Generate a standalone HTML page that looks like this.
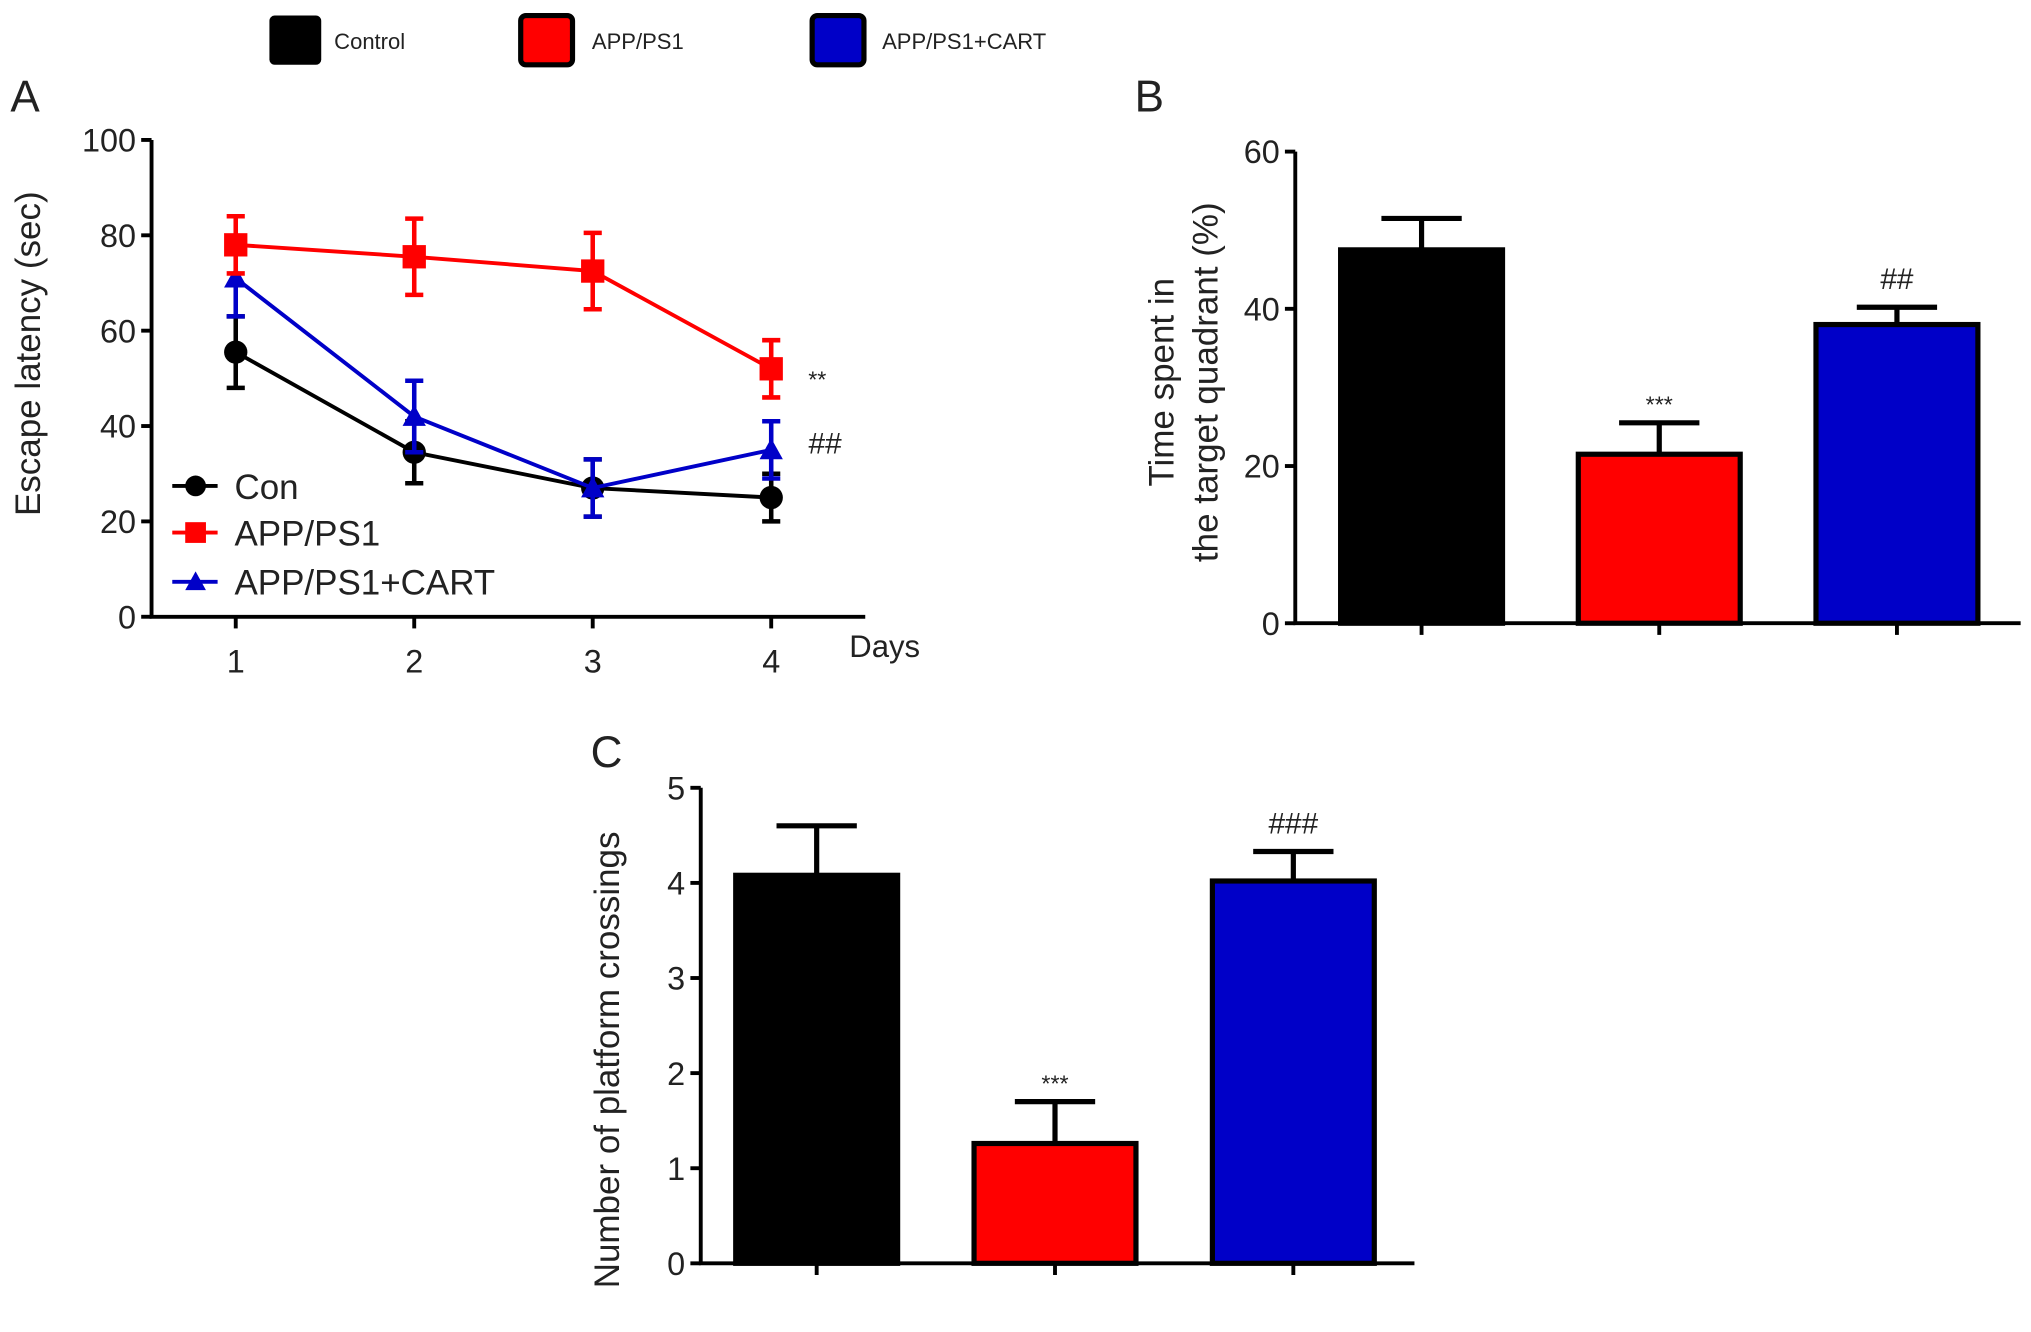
<!DOCTYPE html>
<html><head><meta charset="utf-8"><style>
html,body{margin:0;padding:0;background:#fff}
svg{display:block}
text{font-family:"Liberation Sans",Arial,sans-serif;fill:#222}
</style></head><body>
<svg id="fig" width="2031" height="1332" viewBox="0 0 1568 1028" preserveAspectRatio="none" xmlns="http://www.w3.org/2000/svg">
<g>
 <rect x="208" y="12" width="40" height="38" rx="4" fill="#000"/>
 <text x="258" y="38" font-size="17">Control</text>
 <rect x="402" y="12" width="40" height="38" rx="4" fill="#f00" stroke="#000" stroke-width="4"/>
 <text x="457" y="38" font-size="17">APP/PS1</text>
 <rect x="627" y="12" width="40" height="38" rx="4" fill="#0000c8" stroke="#000" stroke-width="4"/>
 <text x="681" y="38" font-size="17">APP/PS1+CART</text>
</g>
<g id="A"></g>
<g id="B"></g>
<g id="C"></g>
</svg>
<script>
// Panel A data
const days = [1, 2, 3, 4];
const conMean = [55.5, 34.5, 27, 25];
const conErr = [7.5, 6.5, 6, 5];
const appMean = [78, 75.5, 72.5, 52];
const appErr = [6, 8, 8, 6];
const cartMean = [71, 42, 27, 35];
const cartErr = [8, 7.5, 6, 6];
const aTicks = [0, 20, 40, 60, 80, 100];
// Panel B data
const bGroups = ['Control', 'APP/PS1', 'APP/PS1+CART'];
const bMean = [47.5, 21.5, 38];
const bErr = [4, 4, 2.2];
const bSig = ['', '***', '##'];
const bTicks = [0, 20, 40, 60];
// Panel C data
const cMean = [4.08, 1.26, 4.02];
const cErr = [0.52, 0.44, 0.31];
const cSig = ['', '***', '###'];
const cTicks = [0, 1, 2, 3, 4, 5];

const NS = 'http://www.w3.org/2000/svg';
function mk(parent, tag, attrs, txt) {
  const e = document.createElementNS(NS, tag);
  for (const k in attrs) e.setAttribute(k, attrs[k]);
  if (txt !== undefined) e.textContent = txt;
  parent.appendChild(e);
  return e;
}
const colors = ['#000', '#f00', '#0000c8'];

// ---------- Panel A ----------
(function () {
  const g = document.getElementById('A');
  const X0 = 117, Y0 = 476, Ytop = 108;
  const ya = v => Y0 - (v / 100) * (Y0 - Ytop);
  const xa = d => 182 + (d - 1) * 137.8;
  let t = mk(g, 'text', {x: 8, y: 86, 'font-size': 34}, 'A');
  
  
  let ax = mk(g, 'path', {d: `M${X0} ${Ytop}V${Y0}H668`, stroke: '#000', 'stroke-width': 3, fill: 'none'});
  
  
  aTicks.forEach(v => {
    const y = ya(v);
    const l = mk(g, 'line', {x1: X0 - 8, x2: X0, y1: y, y2: y, stroke: '#000', 'stroke-width': 3});
    
    
    const tx = mk(g, 'text', {x: X0 - 12, y: y + 9, 'font-size': 25, 'text-anchor': 'end'}, v);
    
    
  });
  days.forEach(d => {
    const x = xa(d);
    const l = mk(g, 'line', {x1: x, x2: x, y1: Y0, y2: Y0 + 9, stroke: '#000', 'stroke-width': 3});
    
    
    const tx = mk(g, 'text', {x: x, y: 519, 'font-size': 25, 'text-anchor': 'middle'}, d);
    
    
  });
  t = mk(g, 'text', {x: 683, y: 507, 'font-size': 24, 'text-anchor': 'middle'}, 'Days');
  
  
  t = mk(g, 'text', {x: 0, y: 0, 'font-size': 27, 'text-anchor': 'middle', transform: 'translate(31,273) rotate(-90)'}, 'Escape latency (sec)');
  
  
  const series = [
    {m: conMean, e: conErr, c: colors[0], n: 'con', mark: 'circle'},
    {m: cartMean, e: cartErr, c: colors[2], n: 'cart', mark: 'tri'},
    {m: appMean, e: appErr, c: colors[1], n: 'app', mark: 'sq'}
  ];
  function marker(p, kind, x, y, c, sz) {
    let e;
    if (kind === 'circle') e = mk(p, 'circle', {cx: x, cy: y, r: sz, fill: c});
    else if (kind === 'sq') e = mk(p, 'rect', {x: x - sz, y: y - sz, width: 2 * sz, height: 2 * sz, fill: c});
    else e = mk(p, 'polygon', {points: `${x},${y - sz} ${x - sz},${y + sz * 0.8} ${x + sz},${y + sz * 0.8}`, fill: c});
    return e;
  }
  series.forEach(s => {
    const sg = mk(g, 'g', {});
    
    
    const pts = days.map((d, i) => `${xa(d)},${ya(s.m[i])}`).join(' ');
    const pl = mk(sg, 'polyline', {points: pts, fill: 'none', stroke: s.c, 'stroke-width': 3});
    
    
    days.forEach((d, i) => {
      const x = xa(d), yh = ya(s.m[i] + s.e[i]), yl = ya(s.m[i] - s.e[i]);
      const eb = mk(sg, 'path', {d: `M${x} ${yh}V${yl}M${x - 7} ${yh}H${x + 7}M${x - 7} ${yl}H${x + 7}`, stroke: s.c, 'stroke-width': 3.5, fill: 'none'});
      
      
      const mkr = marker(sg, s.mark, x, ya(s.m[i]), s.c, 9);
      
      
    });
  });
  t = mk(g, 'text', {x: 631, y: 299, 'font-size': 18, 'text-anchor': 'middle'}, '**');
  
  
  t = mk(g, 'text', {x: 637, y: 350, 'font-size': 23, 'text-anchor': 'middle'}, '##');
  
  
  const leg = [['Con', colors[0], 'circle', 375], ['APP/PS1', colors[1], 'sq', 411], ['APP/PS1+CART', colors[2], 'tri', 449]];
  leg.forEach(l => {
    const lg = mk(g, 'g', {});
    
    
    mk(lg, 'line', {x1: 133, x2: 168, y1: l[3], y2: l[3], stroke: l[1], 'stroke-width': 3});
    marker(lg, l[2], 151, l[3], l[1], 8);
    mk(lg, 'text', {x: 181, y: l[3] + 10, 'font-size': 27}, l[0]);
  });
})();

// ---------- Bar panels ----------
function barPanel(id, o) {
  const g = document.getElementById(id);
  const ya = v => o.Y0 - (v / o.max) * (o.Y0 - o.Ytop);
  let t = mk(g, 'text', {x: o.lx, y: o.ly, 'font-size': 34}, o.letter);
  
  
  const ax = mk(g, 'path', {d: `M${o.X0} ${o.Ytop}V${o.Y0}H${o.Xend}`, stroke: '#000', 'stroke-width': 3, fill: 'none'});
  
  
  o.ticks.forEach(v => {
    const y = ya(v);
    const l = mk(g, 'line', {x1: o.X0 - 8, x2: o.X0, y1: y, y2: y, stroke: '#000', 'stroke-width': 3});
    
    
    const tx = mk(g, 'text', {x: o.X0 - 12, y: y + 9, 'font-size': 25, 'text-anchor': 'end'}, v);
    
    
  });
  o.mean.forEach((m, i) => {
    const x = o.bx0 + i * o.step;
    const cx = x + o.bw / 2;
    const eh = ya(m + o.err[i]);
    const eb = mk(g, 'path', {d: `M${cx} ${ya(m)}V${eh}M${cx - 31} ${eh}H${cx + 31}`, stroke: '#000', 'stroke-width': 4, fill: 'none'});
    
    
    const r = mk(g, 'rect', {x: x, y: ya(m), width: o.bw, height: o.Y0 - ya(m), fill: colors[i], stroke: '#000', 'stroke-width': 4});
    
    
    const tk = mk(g, 'line', {x1: cx, x2: cx, y1: o.Y0, y2: o.Y0 + 9, stroke: '#000', 'stroke-width': 3});
    
    
    if (o.sig[i]) {
      const isStar = o.sig[i].indexOf('*') >= 0;
      const st = mk(g, 'text', {x: cx, y: eh - (isStar ? 8 : 14), 'font-size': isStar ? 18 : 23, 'text-anchor': 'middle'}, o.sig[i]);
      
      
    }
  });
  o.titles.forEach((tt, j) => {
    const tx = mk(g, 'text', {x: 0, y: 0, 'font-size': 27, 'text-anchor': 'middle', transform: `translate(${tt[1]},${o.tcy}) rotate(-90)`}, tt[0]);
    
    
  });
}
barPanel('B', {letter: 'B', lx: 876, ly: 86, X0: 1000, Y0: 481, Ytop: 117, Xend: 1560, max: 60,
  ticks: bTicks, mean: bMean, err: bErr, sig: bSig, bx0: 1035, bw: 125, step: 183.5,
  titles: [['Time spent in', 906], ['the  target quadrant (%)', 940]], tcy: 295});
barPanel('C', {letter: 'C', lx: 456, ly: 592, X0: 541, Y0: 975, Ytop: 608, Xend: 1092, max: 5,
  ticks: cTicks, mean: cMean, err: cErr, sig: cSig, bx0: 568, bw: 125, step: 184,
  titles: [['Number of platform crossings', 478]], tcy: 818});
</script>
</body></html>
